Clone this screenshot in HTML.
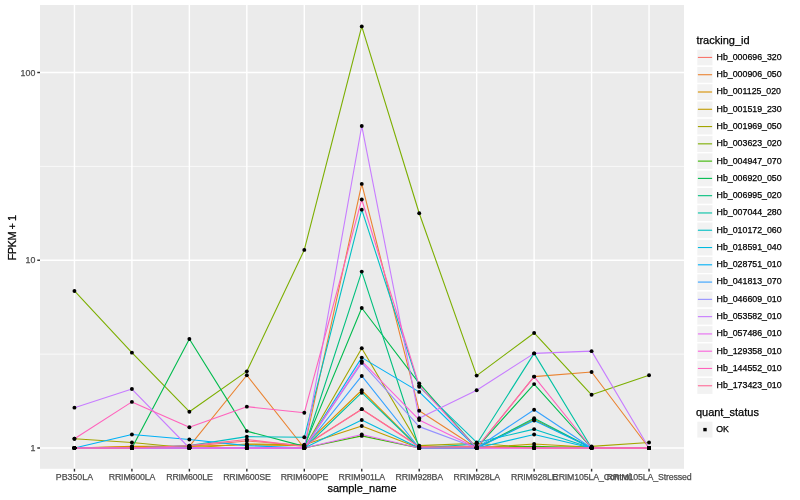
<!DOCTYPE html><html><head><meta charset="utf-8"><style>html,body{margin:0;padding:0;background:#fff;}svg{display:block;will-change:transform;} text{stroke-width:0.25px;} svg{font-family:"Liberation Sans",sans-serif;}</style></head><body>
<svg width="800" height="500" viewBox="0 0 800 500">
<rect x="0" y="0" width="800" height="500" fill="#fff"/>
<rect x="40.0" y="5.0" width="644.0" height="463.8" fill="#EBEBEB"/>
<line x1="40.0" x2="684.0" y1="354.12" y2="354.12" stroke="#fff" stroke-width="0.71"/>
<line x1="40.0" x2="684.0" y1="166.38" y2="166.38" stroke="#fff" stroke-width="0.71"/>
<line x1="40.0" x2="684.0" y1="448.00" y2="448.00" stroke="#fff" stroke-width="1.42"/>
<line x1="40.0" x2="684.0" y1="260.25" y2="260.25" stroke="#fff" stroke-width="1.42"/>
<line x1="40.0" x2="684.0" y1="72.50" y2="72.50" stroke="#fff" stroke-width="1.42"/>
<line x1="74.45" x2="74.45" y1="5.0" y2="468.8" stroke="#fff" stroke-width="1.42"/>
<line x1="131.91" x2="131.91" y1="5.0" y2="468.8" stroke="#fff" stroke-width="1.42"/>
<line x1="189.37" x2="189.37" y1="5.0" y2="468.8" stroke="#fff" stroke-width="1.42"/>
<line x1="246.83" x2="246.83" y1="5.0" y2="468.8" stroke="#fff" stroke-width="1.42"/>
<line x1="304.29" x2="304.29" y1="5.0" y2="468.8" stroke="#fff" stroke-width="1.42"/>
<line x1="361.75" x2="361.75" y1="5.0" y2="468.8" stroke="#fff" stroke-width="1.42"/>
<line x1="419.21" x2="419.21" y1="5.0" y2="468.8" stroke="#fff" stroke-width="1.42"/>
<line x1="476.67" x2="476.67" y1="5.0" y2="468.8" stroke="#fff" stroke-width="1.42"/>
<line x1="534.13" x2="534.13" y1="5.0" y2="468.8" stroke="#fff" stroke-width="1.42"/>
<line x1="591.59" x2="591.59" y1="5.0" y2="468.8" stroke="#fff" stroke-width="1.42"/>
<line x1="649.05" x2="649.05" y1="5.0" y2="468.8" stroke="#fff" stroke-width="1.42"/>
<polyline points="74.45,448.00 131.91,448.00 189.37,446.39 246.83,440.97 304.29,445.59 361.75,409.17 419.21,446.39 476.67,446.39 534.13,448.00 591.59,448.00 649.05,448.00" fill="none" stroke="#F8766D" stroke-width="1.1" stroke-linejoin="round" stroke-linecap="butt"/>
<polyline points="74.45,448.00 131.91,446.79 189.37,446.39 246.83,375.27 304.29,448.00 361.75,183.92 419.21,410.70 476.67,448.00 534.13,376.62 591.59,371.99 649.05,448.00" fill="none" stroke="#EA8331" stroke-width="1.1" stroke-linejoin="round" stroke-linecap="butt"/>
<polyline points="74.45,448.00 131.91,446.39 189.37,446.39 246.83,444.80 304.29,445.59 361.75,390.27 419.21,448.00 476.67,448.00 534.13,419.41 591.59,448.00 649.05,448.00" fill="none" stroke="#D89000" stroke-width="1.1" stroke-linejoin="round" stroke-linecap="butt"/>
<polyline points="74.45,448.00 131.91,448.00 189.37,448.00 246.83,444.02 304.29,444.80 361.75,425.98 419.21,448.00 476.67,448.00 534.13,444.02 591.59,447.19 649.05,448.00" fill="none" stroke="#C09B00" stroke-width="1.1" stroke-linejoin="round" stroke-linecap="butt"/>
<polyline points="74.45,438.76 131.91,442.48 189.37,448.00 246.83,448.00 304.29,448.00 361.75,348.21 419.21,445.59 476.67,443.25 534.13,448.00 591.59,446.39 649.05,442.48" fill="none" stroke="#A3A500" stroke-width="1.1" stroke-linejoin="round" stroke-linecap="butt"/>
<polyline points="74.45,290.98 131.91,352.65 189.37,411.74 246.83,371.35 304.29,249.92 361.75,26.40 419.21,213.23 476.67,375.60 534.13,332.95 591.59,394.81 649.05,375.27" fill="none" stroke="#7CAE00" stroke-width="1.1" stroke-linejoin="round" stroke-linecap="butt"/>
<polyline points="74.45,448.00 131.91,448.00 189.37,448.00 246.83,448.00 304.29,448.00 361.75,435.90 419.21,448.00 476.67,448.00 534.13,446.39 591.59,448.00 649.05,448.00" fill="none" stroke="#39B600" stroke-width="1.1" stroke-linejoin="round" stroke-linecap="butt"/>
<polyline points="74.45,448.00 131.91,448.00 189.37,338.93 246.83,431.12 304.29,446.39 361.75,307.97 419.21,383.34 476.67,448.00 534.13,384.08 591.59,448.00 649.05,448.00" fill="none" stroke="#00BB4E" stroke-width="1.1" stroke-linejoin="round" stroke-linecap="butt"/>
<polyline points="74.45,448.00 131.91,448.00 189.37,448.00 246.83,448.00 304.29,448.00 361.75,271.61 419.21,448.00 476.67,448.00 534.13,418.27 591.59,448.00 649.05,448.00" fill="none" stroke="#00BF7D" stroke-width="1.1" stroke-linejoin="round" stroke-linecap="butt"/>
<polyline points="74.45,448.00 131.91,448.00 189.37,448.00 246.83,448.00 304.29,448.00 361.75,392.71 419.21,448.00 476.67,444.02 534.13,353.41 591.59,448.00 649.05,448.00" fill="none" stroke="#00C1A3" stroke-width="1.1" stroke-linejoin="round" stroke-linecap="butt"/>
<polyline points="74.45,448.00 131.91,448.00 189.37,445.59 246.83,436.60 304.29,437.32 361.75,209.65 419.21,386.73 476.67,442.48 534.13,429.16 591.59,448.00 649.05,448.00" fill="none" stroke="#00BFC4" stroke-width="1.1" stroke-linejoin="round" stroke-linecap="butt"/>
<polyline points="74.45,448.00 131.91,448.00 189.37,448.00 246.83,448.00 304.29,448.00 361.75,419.98 419.21,448.00 476.67,448.00 534.13,434.50 591.59,448.00 649.05,448.00" fill="none" stroke="#00BAE0" stroke-width="1.1" stroke-linejoin="round" stroke-linecap="butt"/>
<polyline points="74.45,448.00 131.91,434.50 189.37,439.49 246.83,445.59 304.29,448.00 361.75,357.61 419.21,391.89 476.67,448.00 534.13,420.56 591.59,448.00 649.05,448.00" fill="none" stroke="#00B0F6" stroke-width="1.1" stroke-linejoin="round" stroke-linecap="butt"/>
<polyline points="74.45,448.00 131.91,448.00 189.37,448.00 246.83,448.00 304.29,448.00 361.75,375.94 419.21,448.00 476.67,448.00 534.13,409.68 591.59,448.00 649.05,448.00" fill="none" stroke="#35A2FF" stroke-width="1.1" stroke-linejoin="round" stroke-linecap="butt"/>
<polyline points="74.45,448.00 131.91,448.00 189.37,448.00 246.83,448.00 304.29,448.00 361.75,362.89 419.21,426.61 476.67,448.00 534.13,448.00 591.59,448.00 649.05,448.00" fill="none" stroke="#9590FF" stroke-width="1.1" stroke-linejoin="round" stroke-linecap="butt"/>
<polyline points="74.45,407.66 131.91,389.07 189.37,448.00 246.83,448.00 304.29,448.00 361.75,125.98 419.21,418.27 476.67,390.27 534.13,353.41 591.59,351.14 649.05,448.00" fill="none" stroke="#C77CFF" stroke-width="1.1" stroke-linejoin="round" stroke-linecap="butt"/>
<polyline points="74.45,448.00 131.91,448.00 189.37,448.00 246.83,448.00 304.29,448.00 361.75,434.50 419.21,448.00 476.67,448.00 534.13,448.00 591.59,448.00 649.05,448.00" fill="none" stroke="#E76BF3" stroke-width="1.1" stroke-linejoin="round" stroke-linecap="butt"/>
<polyline points="74.45,448.00 131.91,448.00 189.37,448.00 246.83,448.00 304.29,448.00 361.75,361.18 419.21,419.98 476.67,448.00 534.13,448.00 591.59,448.00 649.05,448.00" fill="none" stroke="#FA62DB" stroke-width="1.1" stroke-linejoin="round" stroke-linecap="butt"/>
<polyline points="74.45,438.76 131.91,401.90 189.37,427.24 246.83,406.67 304.29,412.79 361.75,199.48 419.21,385.58 476.67,448.00 534.13,376.62 591.59,448.00 649.05,448.00" fill="none" stroke="#FF62BC" stroke-width="1.1" stroke-linejoin="round" stroke-linecap="butt"/>
<polyline points="74.45,448.00 131.91,448.00 189.37,445.59 246.83,439.49 304.29,446.39 361.75,409.17 419.21,447.03 476.67,447.03 534.13,448.00 591.59,448.00 649.05,448.00" fill="none" stroke="#FF6A98" stroke-width="1.1" stroke-linejoin="round" stroke-linecap="butt"/>
<circle cx="74.45" cy="448.00" r="1.95" fill="#000"/>
<circle cx="131.91" cy="448.00" r="1.95" fill="#000"/>
<circle cx="189.37" cy="446.39" r="1.95" fill="#000"/>
<circle cx="246.83" cy="440.97" r="1.95" fill="#000"/>
<circle cx="304.29" cy="445.59" r="1.95" fill="#000"/>
<circle cx="361.75" cy="409.17" r="1.95" fill="#000"/>
<circle cx="419.21" cy="446.39" r="1.95" fill="#000"/>
<circle cx="476.67" cy="446.39" r="1.95" fill="#000"/>
<circle cx="534.13" cy="448.00" r="1.95" fill="#000"/>
<circle cx="591.59" cy="448.00" r="1.95" fill="#000"/>
<circle cx="649.05" cy="448.00" r="1.95" fill="#000"/>
<circle cx="74.45" cy="448.00" r="1.95" fill="#000"/>
<circle cx="131.91" cy="446.79" r="1.95" fill="#000"/>
<circle cx="189.37" cy="446.39" r="1.95" fill="#000"/>
<circle cx="246.83" cy="375.27" r="1.95" fill="#000"/>
<circle cx="304.29" cy="448.00" r="1.95" fill="#000"/>
<circle cx="361.75" cy="183.92" r="1.95" fill="#000"/>
<circle cx="419.21" cy="410.70" r="1.95" fill="#000"/>
<circle cx="476.67" cy="448.00" r="1.95" fill="#000"/>
<circle cx="534.13" cy="376.62" r="1.95" fill="#000"/>
<circle cx="591.59" cy="371.99" r="1.95" fill="#000"/>
<circle cx="649.05" cy="448.00" r="1.95" fill="#000"/>
<circle cx="74.45" cy="448.00" r="1.95" fill="#000"/>
<circle cx="131.91" cy="446.39" r="1.95" fill="#000"/>
<circle cx="189.37" cy="446.39" r="1.95" fill="#000"/>
<circle cx="246.83" cy="444.80" r="1.95" fill="#000"/>
<circle cx="304.29" cy="445.59" r="1.95" fill="#000"/>
<circle cx="361.75" cy="390.27" r="1.95" fill="#000"/>
<circle cx="419.21" cy="448.00" r="1.95" fill="#000"/>
<circle cx="476.67" cy="448.00" r="1.95" fill="#000"/>
<circle cx="534.13" cy="419.41" r="1.95" fill="#000"/>
<circle cx="591.59" cy="448.00" r="1.95" fill="#000"/>
<circle cx="649.05" cy="448.00" r="1.95" fill="#000"/>
<circle cx="74.45" cy="448.00" r="1.95" fill="#000"/>
<circle cx="131.91" cy="448.00" r="1.95" fill="#000"/>
<circle cx="189.37" cy="448.00" r="1.95" fill="#000"/>
<circle cx="246.83" cy="444.02" r="1.95" fill="#000"/>
<circle cx="304.29" cy="444.80" r="1.95" fill="#000"/>
<circle cx="361.75" cy="425.98" r="1.95" fill="#000"/>
<circle cx="419.21" cy="448.00" r="1.95" fill="#000"/>
<circle cx="476.67" cy="448.00" r="1.95" fill="#000"/>
<circle cx="534.13" cy="444.02" r="1.95" fill="#000"/>
<circle cx="591.59" cy="447.19" r="1.95" fill="#000"/>
<circle cx="649.05" cy="448.00" r="1.95" fill="#000"/>
<circle cx="74.45" cy="438.76" r="1.95" fill="#000"/>
<circle cx="131.91" cy="442.48" r="1.95" fill="#000"/>
<circle cx="189.37" cy="448.00" r="1.95" fill="#000"/>
<circle cx="246.83" cy="448.00" r="1.95" fill="#000"/>
<circle cx="304.29" cy="448.00" r="1.95" fill="#000"/>
<circle cx="361.75" cy="348.21" r="1.95" fill="#000"/>
<circle cx="419.21" cy="445.59" r="1.95" fill="#000"/>
<circle cx="476.67" cy="443.25" r="1.95" fill="#000"/>
<circle cx="534.13" cy="448.00" r="1.95" fill="#000"/>
<circle cx="591.59" cy="446.39" r="1.95" fill="#000"/>
<circle cx="649.05" cy="442.48" r="1.95" fill="#000"/>
<circle cx="74.45" cy="290.98" r="1.95" fill="#000"/>
<circle cx="131.91" cy="352.65" r="1.95" fill="#000"/>
<circle cx="189.37" cy="411.74" r="1.95" fill="#000"/>
<circle cx="246.83" cy="371.35" r="1.95" fill="#000"/>
<circle cx="304.29" cy="249.92" r="1.95" fill="#000"/>
<circle cx="361.75" cy="26.40" r="1.95" fill="#000"/>
<circle cx="419.21" cy="213.23" r="1.95" fill="#000"/>
<circle cx="476.67" cy="375.60" r="1.95" fill="#000"/>
<circle cx="534.13" cy="332.95" r="1.95" fill="#000"/>
<circle cx="591.59" cy="394.81" r="1.95" fill="#000"/>
<circle cx="649.05" cy="375.27" r="1.95" fill="#000"/>
<circle cx="74.45" cy="448.00" r="1.95" fill="#000"/>
<circle cx="131.91" cy="448.00" r="1.95" fill="#000"/>
<circle cx="189.37" cy="448.00" r="1.95" fill="#000"/>
<circle cx="246.83" cy="448.00" r="1.95" fill="#000"/>
<circle cx="304.29" cy="448.00" r="1.95" fill="#000"/>
<circle cx="361.75" cy="435.90" r="1.95" fill="#000"/>
<circle cx="419.21" cy="448.00" r="1.95" fill="#000"/>
<circle cx="476.67" cy="448.00" r="1.95" fill="#000"/>
<circle cx="534.13" cy="446.39" r="1.95" fill="#000"/>
<circle cx="591.59" cy="448.00" r="1.95" fill="#000"/>
<circle cx="649.05" cy="448.00" r="1.95" fill="#000"/>
<circle cx="74.45" cy="448.00" r="1.95" fill="#000"/>
<circle cx="131.91" cy="448.00" r="1.95" fill="#000"/>
<circle cx="189.37" cy="338.93" r="1.95" fill="#000"/>
<circle cx="246.83" cy="431.12" r="1.95" fill="#000"/>
<circle cx="304.29" cy="446.39" r="1.95" fill="#000"/>
<circle cx="361.75" cy="307.97" r="1.95" fill="#000"/>
<circle cx="419.21" cy="383.34" r="1.95" fill="#000"/>
<circle cx="476.67" cy="448.00" r="1.95" fill="#000"/>
<circle cx="534.13" cy="384.08" r="1.95" fill="#000"/>
<circle cx="591.59" cy="448.00" r="1.95" fill="#000"/>
<circle cx="649.05" cy="448.00" r="1.95" fill="#000"/>
<circle cx="74.45" cy="448.00" r="1.95" fill="#000"/>
<circle cx="131.91" cy="448.00" r="1.95" fill="#000"/>
<circle cx="189.37" cy="448.00" r="1.95" fill="#000"/>
<circle cx="246.83" cy="448.00" r="1.95" fill="#000"/>
<circle cx="304.29" cy="448.00" r="1.95" fill="#000"/>
<circle cx="361.75" cy="271.61" r="1.95" fill="#000"/>
<circle cx="419.21" cy="448.00" r="1.95" fill="#000"/>
<circle cx="476.67" cy="448.00" r="1.95" fill="#000"/>
<circle cx="534.13" cy="418.27" r="1.95" fill="#000"/>
<circle cx="591.59" cy="448.00" r="1.95" fill="#000"/>
<circle cx="649.05" cy="448.00" r="1.95" fill="#000"/>
<circle cx="74.45" cy="448.00" r="1.95" fill="#000"/>
<circle cx="131.91" cy="448.00" r="1.95" fill="#000"/>
<circle cx="189.37" cy="448.00" r="1.95" fill="#000"/>
<circle cx="246.83" cy="448.00" r="1.95" fill="#000"/>
<circle cx="304.29" cy="448.00" r="1.95" fill="#000"/>
<circle cx="361.75" cy="392.71" r="1.95" fill="#000"/>
<circle cx="419.21" cy="448.00" r="1.95" fill="#000"/>
<circle cx="476.67" cy="444.02" r="1.95" fill="#000"/>
<circle cx="534.13" cy="353.41" r="1.95" fill="#000"/>
<circle cx="591.59" cy="448.00" r="1.95" fill="#000"/>
<circle cx="649.05" cy="448.00" r="1.95" fill="#000"/>
<circle cx="74.45" cy="448.00" r="1.95" fill="#000"/>
<circle cx="131.91" cy="448.00" r="1.95" fill="#000"/>
<circle cx="189.37" cy="445.59" r="1.95" fill="#000"/>
<circle cx="246.83" cy="436.60" r="1.95" fill="#000"/>
<circle cx="304.29" cy="437.32" r="1.95" fill="#000"/>
<circle cx="361.75" cy="209.65" r="1.95" fill="#000"/>
<circle cx="419.21" cy="386.73" r="1.95" fill="#000"/>
<circle cx="476.67" cy="442.48" r="1.95" fill="#000"/>
<circle cx="534.13" cy="429.16" r="1.95" fill="#000"/>
<circle cx="591.59" cy="448.00" r="1.95" fill="#000"/>
<circle cx="649.05" cy="448.00" r="1.95" fill="#000"/>
<circle cx="74.45" cy="448.00" r="1.95" fill="#000"/>
<circle cx="131.91" cy="448.00" r="1.95" fill="#000"/>
<circle cx="189.37" cy="448.00" r="1.95" fill="#000"/>
<circle cx="246.83" cy="448.00" r="1.95" fill="#000"/>
<circle cx="304.29" cy="448.00" r="1.95" fill="#000"/>
<circle cx="361.75" cy="419.98" r="1.95" fill="#000"/>
<circle cx="419.21" cy="448.00" r="1.95" fill="#000"/>
<circle cx="476.67" cy="448.00" r="1.95" fill="#000"/>
<circle cx="534.13" cy="434.50" r="1.95" fill="#000"/>
<circle cx="591.59" cy="448.00" r="1.95" fill="#000"/>
<circle cx="649.05" cy="448.00" r="1.95" fill="#000"/>
<circle cx="74.45" cy="448.00" r="1.95" fill="#000"/>
<circle cx="131.91" cy="434.50" r="1.95" fill="#000"/>
<circle cx="189.37" cy="439.49" r="1.95" fill="#000"/>
<circle cx="246.83" cy="445.59" r="1.95" fill="#000"/>
<circle cx="304.29" cy="448.00" r="1.95" fill="#000"/>
<circle cx="361.75" cy="357.61" r="1.95" fill="#000"/>
<circle cx="419.21" cy="391.89" r="1.95" fill="#000"/>
<circle cx="476.67" cy="448.00" r="1.95" fill="#000"/>
<circle cx="534.13" cy="420.56" r="1.95" fill="#000"/>
<circle cx="591.59" cy="448.00" r="1.95" fill="#000"/>
<circle cx="649.05" cy="448.00" r="1.95" fill="#000"/>
<circle cx="74.45" cy="448.00" r="1.95" fill="#000"/>
<circle cx="131.91" cy="448.00" r="1.95" fill="#000"/>
<circle cx="189.37" cy="448.00" r="1.95" fill="#000"/>
<circle cx="246.83" cy="448.00" r="1.95" fill="#000"/>
<circle cx="304.29" cy="448.00" r="1.95" fill="#000"/>
<circle cx="361.75" cy="375.94" r="1.95" fill="#000"/>
<circle cx="419.21" cy="448.00" r="1.95" fill="#000"/>
<circle cx="476.67" cy="448.00" r="1.95" fill="#000"/>
<circle cx="534.13" cy="409.68" r="1.95" fill="#000"/>
<circle cx="591.59" cy="448.00" r="1.95" fill="#000"/>
<circle cx="649.05" cy="448.00" r="1.95" fill="#000"/>
<circle cx="74.45" cy="448.00" r="1.95" fill="#000"/>
<circle cx="131.91" cy="448.00" r="1.95" fill="#000"/>
<circle cx="189.37" cy="448.00" r="1.95" fill="#000"/>
<circle cx="246.83" cy="448.00" r="1.95" fill="#000"/>
<circle cx="304.29" cy="448.00" r="1.95" fill="#000"/>
<circle cx="361.75" cy="362.89" r="1.95" fill="#000"/>
<circle cx="419.21" cy="426.61" r="1.95" fill="#000"/>
<circle cx="476.67" cy="448.00" r="1.95" fill="#000"/>
<circle cx="534.13" cy="448.00" r="1.95" fill="#000"/>
<circle cx="591.59" cy="448.00" r="1.95" fill="#000"/>
<circle cx="649.05" cy="448.00" r="1.95" fill="#000"/>
<circle cx="74.45" cy="407.66" r="1.95" fill="#000"/>
<circle cx="131.91" cy="389.07" r="1.95" fill="#000"/>
<circle cx="189.37" cy="448.00" r="1.95" fill="#000"/>
<circle cx="246.83" cy="448.00" r="1.95" fill="#000"/>
<circle cx="304.29" cy="448.00" r="1.95" fill="#000"/>
<circle cx="361.75" cy="125.98" r="1.95" fill="#000"/>
<circle cx="419.21" cy="418.27" r="1.95" fill="#000"/>
<circle cx="476.67" cy="390.27" r="1.95" fill="#000"/>
<circle cx="534.13" cy="353.41" r="1.95" fill="#000"/>
<circle cx="591.59" cy="351.14" r="1.95" fill="#000"/>
<circle cx="649.05" cy="448.00" r="1.95" fill="#000"/>
<circle cx="74.45" cy="448.00" r="1.95" fill="#000"/>
<circle cx="131.91" cy="448.00" r="1.95" fill="#000"/>
<circle cx="189.37" cy="448.00" r="1.95" fill="#000"/>
<circle cx="246.83" cy="448.00" r="1.95" fill="#000"/>
<circle cx="304.29" cy="448.00" r="1.95" fill="#000"/>
<circle cx="361.75" cy="434.50" r="1.95" fill="#000"/>
<circle cx="419.21" cy="448.00" r="1.95" fill="#000"/>
<circle cx="476.67" cy="448.00" r="1.95" fill="#000"/>
<circle cx="534.13" cy="448.00" r="1.95" fill="#000"/>
<circle cx="591.59" cy="448.00" r="1.95" fill="#000"/>
<circle cx="649.05" cy="448.00" r="1.95" fill="#000"/>
<circle cx="74.45" cy="448.00" r="1.95" fill="#000"/>
<circle cx="131.91" cy="448.00" r="1.95" fill="#000"/>
<circle cx="189.37" cy="448.00" r="1.95" fill="#000"/>
<circle cx="246.83" cy="448.00" r="1.95" fill="#000"/>
<circle cx="304.29" cy="448.00" r="1.95" fill="#000"/>
<circle cx="361.75" cy="361.18" r="1.95" fill="#000"/>
<circle cx="419.21" cy="419.98" r="1.95" fill="#000"/>
<circle cx="476.67" cy="448.00" r="1.95" fill="#000"/>
<circle cx="534.13" cy="448.00" r="1.95" fill="#000"/>
<circle cx="591.59" cy="448.00" r="1.95" fill="#000"/>
<circle cx="649.05" cy="448.00" r="1.95" fill="#000"/>
<circle cx="74.45" cy="438.76" r="1.95" fill="#000"/>
<circle cx="131.91" cy="401.90" r="1.95" fill="#000"/>
<circle cx="189.37" cy="427.24" r="1.95" fill="#000"/>
<circle cx="246.83" cy="406.67" r="1.95" fill="#000"/>
<circle cx="304.29" cy="412.79" r="1.95" fill="#000"/>
<circle cx="361.75" cy="199.48" r="1.95" fill="#000"/>
<circle cx="419.21" cy="385.58" r="1.95" fill="#000"/>
<circle cx="476.67" cy="448.00" r="1.95" fill="#000"/>
<circle cx="534.13" cy="376.62" r="1.95" fill="#000"/>
<circle cx="591.59" cy="448.00" r="1.95" fill="#000"/>
<circle cx="649.05" cy="448.00" r="1.95" fill="#000"/>
<circle cx="74.45" cy="448.00" r="1.95" fill="#000"/>
<circle cx="131.91" cy="448.00" r="1.95" fill="#000"/>
<circle cx="189.37" cy="445.59" r="1.95" fill="#000"/>
<circle cx="246.83" cy="439.49" r="1.95" fill="#000"/>
<circle cx="304.29" cy="446.39" r="1.95" fill="#000"/>
<circle cx="361.75" cy="409.17" r="1.95" fill="#000"/>
<circle cx="419.21" cy="447.03" r="1.95" fill="#000"/>
<circle cx="476.67" cy="447.03" r="1.95" fill="#000"/>
<circle cx="534.13" cy="448.00" r="1.95" fill="#000"/>
<circle cx="591.59" cy="448.00" r="1.95" fill="#000"/>
<circle cx="649.05" cy="448.00" r="1.95" fill="#000"/>
<line x1="37.26" x2="40.0" y1="448.00" y2="448.00" stroke="#333" stroke-width="1.42"/>
<text x="35.3" y="451.10" font-size="8.8" fill="#4D4D4D" stroke="#4D4D4D" text-anchor="end">1</text>
<line x1="37.26" x2="40.0" y1="260.25" y2="260.25" stroke="#333" stroke-width="1.42"/>
<text x="35.3" y="263.35" font-size="8.8" fill="#4D4D4D" stroke="#4D4D4D" text-anchor="end">10</text>
<line x1="37.26" x2="40.0" y1="72.50" y2="72.50" stroke="#333" stroke-width="1.42"/>
<text x="35.3" y="75.60" font-size="8.8" fill="#4D4D4D" stroke="#4D4D4D" text-anchor="end">100</text>
<line x1="74.45" x2="74.45" y1="468.8" y2="471.54" stroke="#333" stroke-width="1.42"/>
<text x="74.45" y="479.8" font-size="8.8" fill="#4D4D4D" stroke="#4D4D4D" text-anchor="middle" letter-spacing="0">PB350LA</text>
<line x1="131.91" x2="131.91" y1="468.8" y2="471.54" stroke="#333" stroke-width="1.42"/>
<text x="131.99" y="479.8" font-size="8.8" fill="#4D4D4D" stroke="#4D4D4D" text-anchor="middle" letter-spacing="-0.16">RRIM600LA</text>
<line x1="189.37" x2="189.37" y1="468.8" y2="471.54" stroke="#333" stroke-width="1.42"/>
<text x="189.45" y="479.8" font-size="8.8" fill="#4D4D4D" stroke="#4D4D4D" text-anchor="middle" letter-spacing="-0.16">RRIM600LE</text>
<line x1="246.83" x2="246.83" y1="468.8" y2="471.54" stroke="#333" stroke-width="1.42"/>
<text x="246.91" y="479.8" font-size="8.8" fill="#4D4D4D" stroke="#4D4D4D" text-anchor="middle" letter-spacing="-0.16">RRIM600SE</text>
<line x1="304.29" x2="304.29" y1="468.8" y2="471.54" stroke="#333" stroke-width="1.42"/>
<text x="304.37" y="479.8" font-size="8.8" fill="#4D4D4D" stroke="#4D4D4D" text-anchor="middle" letter-spacing="-0.16">RRIM600PE</text>
<line x1="361.75" x2="361.75" y1="468.8" y2="471.54" stroke="#333" stroke-width="1.42"/>
<text x="361.83" y="479.8" font-size="8.8" fill="#4D4D4D" stroke="#4D4D4D" text-anchor="middle" letter-spacing="-0.16">RRIM901LA</text>
<line x1="419.21" x2="419.21" y1="468.8" y2="471.54" stroke="#333" stroke-width="1.42"/>
<text x="419.29" y="479.8" font-size="8.8" fill="#4D4D4D" stroke="#4D4D4D" text-anchor="middle" letter-spacing="-0.16">RRIM928BA</text>
<line x1="476.67" x2="476.67" y1="468.8" y2="471.54" stroke="#333" stroke-width="1.42"/>
<text x="476.75" y="479.8" font-size="8.8" fill="#4D4D4D" stroke="#4D4D4D" text-anchor="middle" letter-spacing="-0.16">RRIM928LA</text>
<line x1="534.13" x2="534.13" y1="468.8" y2="471.54" stroke="#333" stroke-width="1.42"/>
<text x="534.21" y="479.8" font-size="8.8" fill="#4D4D4D" stroke="#4D4D4D" text-anchor="middle" letter-spacing="-0.16">RRIM928LE</text>
<line x1="591.59" x2="591.59" y1="468.8" y2="471.54" stroke="#333" stroke-width="1.42"/>
<text x="591.67" y="479.8" font-size="8.8" fill="#4D4D4D" stroke="#4D4D4D" text-anchor="middle" letter-spacing="-0.16">RRIM105LA_Control</text>
<line x1="649.05" x2="649.05" y1="468.8" y2="471.54" stroke="#333" stroke-width="1.42"/>
<text x="649.13" y="479.8" font-size="8.8" fill="#4D4D4D" stroke="#4D4D4D" text-anchor="middle" letter-spacing="-0.16">RRIM105LA_Stressed</text>
<text x="362.00" y="491.7" font-size="11" fill="#000" stroke="#000" text-anchor="middle">sample_name</text>
<text transform="translate(16,237.90) rotate(-90)" font-size="11" fill="#000" stroke="#000" text-anchor="middle" letter-spacing="-0.5">FPKM + 1</text>
<text x="696.4" y="43.8" font-size="11" fill="#000" stroke="#000">tracking_id</text>
<rect x="696.6" y="49.00" width="16.6" height="17.28" fill="#F2F2F2" stroke="#fff" stroke-width="1.42"/>
<line x1="697.9" x2="712.1" y1="57.44" y2="57.44" stroke="#F8766D" stroke-width="1.1"/>
<text x="716.6" y="59.84" font-size="8.8" fill="#000" stroke="#000">Hb_000696_320</text>
<rect x="696.6" y="66.28" width="16.6" height="17.28" fill="#F2F2F2" stroke="#fff" stroke-width="1.42"/>
<line x1="697.9" x2="712.1" y1="74.72" y2="74.72" stroke="#EA8331" stroke-width="1.1"/>
<text x="716.6" y="77.12" font-size="8.8" fill="#000" stroke="#000">Hb_000906_050</text>
<rect x="696.6" y="83.56" width="16.6" height="17.28" fill="#F2F2F2" stroke="#fff" stroke-width="1.42"/>
<line x1="697.9" x2="712.1" y1="92.00" y2="92.00" stroke="#D89000" stroke-width="1.1"/>
<text x="716.6" y="94.40" font-size="8.8" fill="#000" stroke="#000">Hb_001125_020</text>
<rect x="696.6" y="100.84" width="16.6" height="17.28" fill="#F2F2F2" stroke="#fff" stroke-width="1.42"/>
<line x1="697.9" x2="712.1" y1="109.28" y2="109.28" stroke="#C09B00" stroke-width="1.1"/>
<text x="716.6" y="111.68" font-size="8.8" fill="#000" stroke="#000">Hb_001519_230</text>
<rect x="696.6" y="118.12" width="16.6" height="17.28" fill="#F2F2F2" stroke="#fff" stroke-width="1.42"/>
<line x1="697.9" x2="712.1" y1="126.56" y2="126.56" stroke="#A3A500" stroke-width="1.1"/>
<text x="716.6" y="128.96" font-size="8.8" fill="#000" stroke="#000">Hb_001969_050</text>
<rect x="696.6" y="135.40" width="16.6" height="17.28" fill="#F2F2F2" stroke="#fff" stroke-width="1.42"/>
<line x1="697.9" x2="712.1" y1="143.84" y2="143.84" stroke="#7CAE00" stroke-width="1.1"/>
<text x="716.6" y="146.24" font-size="8.8" fill="#000" stroke="#000">Hb_003623_020</text>
<rect x="696.6" y="152.68" width="16.6" height="17.28" fill="#F2F2F2" stroke="#fff" stroke-width="1.42"/>
<line x1="697.9" x2="712.1" y1="161.12" y2="161.12" stroke="#39B600" stroke-width="1.1"/>
<text x="716.6" y="163.52" font-size="8.8" fill="#000" stroke="#000">Hb_004947_070</text>
<rect x="696.6" y="169.96" width="16.6" height="17.28" fill="#F2F2F2" stroke="#fff" stroke-width="1.42"/>
<line x1="697.9" x2="712.1" y1="178.40" y2="178.40" stroke="#00BB4E" stroke-width="1.1"/>
<text x="716.6" y="180.80" font-size="8.8" fill="#000" stroke="#000">Hb_006920_050</text>
<rect x="696.6" y="187.24" width="16.6" height="17.28" fill="#F2F2F2" stroke="#fff" stroke-width="1.42"/>
<line x1="697.9" x2="712.1" y1="195.68" y2="195.68" stroke="#00BF7D" stroke-width="1.1"/>
<text x="716.6" y="198.08" font-size="8.8" fill="#000" stroke="#000">Hb_006995_020</text>
<rect x="696.6" y="204.52" width="16.6" height="17.28" fill="#F2F2F2" stroke="#fff" stroke-width="1.42"/>
<line x1="697.9" x2="712.1" y1="212.96" y2="212.96" stroke="#00C1A3" stroke-width="1.1"/>
<text x="716.6" y="215.36" font-size="8.8" fill="#000" stroke="#000">Hb_007044_280</text>
<rect x="696.6" y="221.80" width="16.6" height="17.28" fill="#F2F2F2" stroke="#fff" stroke-width="1.42"/>
<line x1="697.9" x2="712.1" y1="230.24" y2="230.24" stroke="#00BFC4" stroke-width="1.1"/>
<text x="716.6" y="232.64" font-size="8.8" fill="#000" stroke="#000">Hb_010172_060</text>
<rect x="696.6" y="239.08" width="16.6" height="17.28" fill="#F2F2F2" stroke="#fff" stroke-width="1.42"/>
<line x1="697.9" x2="712.1" y1="247.52" y2="247.52" stroke="#00BAE0" stroke-width="1.1"/>
<text x="716.6" y="249.92" font-size="8.8" fill="#000" stroke="#000">Hb_018591_040</text>
<rect x="696.6" y="256.36" width="16.6" height="17.28" fill="#F2F2F2" stroke="#fff" stroke-width="1.42"/>
<line x1="697.9" x2="712.1" y1="264.80" y2="264.80" stroke="#00B0F6" stroke-width="1.1"/>
<text x="716.6" y="267.20" font-size="8.8" fill="#000" stroke="#000">Hb_028751_010</text>
<rect x="696.6" y="273.64" width="16.6" height="17.28" fill="#F2F2F2" stroke="#fff" stroke-width="1.42"/>
<line x1="697.9" x2="712.1" y1="282.08" y2="282.08" stroke="#35A2FF" stroke-width="1.1"/>
<text x="716.6" y="284.48" font-size="8.8" fill="#000" stroke="#000">Hb_041813_070</text>
<rect x="696.6" y="290.92" width="16.6" height="17.28" fill="#F2F2F2" stroke="#fff" stroke-width="1.42"/>
<line x1="697.9" x2="712.1" y1="299.36" y2="299.36" stroke="#9590FF" stroke-width="1.1"/>
<text x="716.6" y="301.76" font-size="8.8" fill="#000" stroke="#000">Hb_046609_010</text>
<rect x="696.6" y="308.20" width="16.6" height="17.28" fill="#F2F2F2" stroke="#fff" stroke-width="1.42"/>
<line x1="697.9" x2="712.1" y1="316.64" y2="316.64" stroke="#C77CFF" stroke-width="1.1"/>
<text x="716.6" y="319.04" font-size="8.8" fill="#000" stroke="#000">Hb_053582_010</text>
<rect x="696.6" y="325.48" width="16.6" height="17.28" fill="#F2F2F2" stroke="#fff" stroke-width="1.42"/>
<line x1="697.9" x2="712.1" y1="333.92" y2="333.92" stroke="#E76BF3" stroke-width="1.1"/>
<text x="716.6" y="336.32" font-size="8.8" fill="#000" stroke="#000">Hb_057486_010</text>
<rect x="696.6" y="342.76" width="16.6" height="17.28" fill="#F2F2F2" stroke="#fff" stroke-width="1.42"/>
<line x1="697.9" x2="712.1" y1="351.20" y2="351.20" stroke="#FA62DB" stroke-width="1.1"/>
<text x="716.6" y="353.60" font-size="8.8" fill="#000" stroke="#000">Hb_129358_010</text>
<rect x="696.6" y="360.04" width="16.6" height="17.28" fill="#F2F2F2" stroke="#fff" stroke-width="1.42"/>
<line x1="697.9" x2="712.1" y1="368.48" y2="368.48" stroke="#FF62BC" stroke-width="1.1"/>
<text x="716.6" y="370.88" font-size="8.8" fill="#000" stroke="#000">Hb_144552_010</text>
<rect x="696.6" y="377.32" width="16.6" height="17.28" fill="#F2F2F2" stroke="#fff" stroke-width="1.42"/>
<line x1="697.9" x2="712.1" y1="385.76" y2="385.76" stroke="#FF6A98" stroke-width="1.1"/>
<text x="716.6" y="388.16" font-size="8.8" fill="#000" stroke="#000">Hb_173423_010</text>
<text x="695.9" y="416.2" font-size="11" fill="#000" stroke="#000">quant_status</text>
<rect x="696.6" y="421.0" width="16.6" height="17.28" fill="#F2F2F2" stroke="#fff" stroke-width="1.42"/>
<rect x="703.3" y="427.9" width="3.4" height="3.4" fill="#000"/>
<text x="716.2" y="431.8" font-size="8.8" fill="#000" stroke="#000">OK</text>
</svg></body></html>
